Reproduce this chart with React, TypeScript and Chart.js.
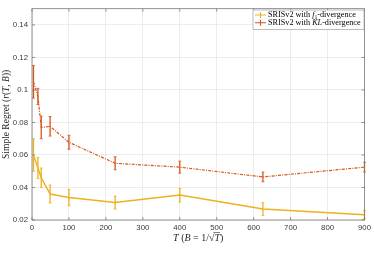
import React, { useEffect, useRef } from "react";
import { Chart, registerables } from "chart.js";

Chart.register(...registerables);

const T_VALUES = [4, 16, 25, 49, 100, 225, 400, 625, 900];
const F1_MEAN = [0.060, 0.052, 0.046, 0.036, 0.0338, 0.0307, 0.0353, 0.0267, 0.0232];
const F1_ERR = [0.010, 0.0065, 0.006, 0.0055, 0.005, 0.004, 0.0042, 0.004, 0.0025];
const KL_MEAN = [0.105, 0.096, 0.077, 0.0776, 0.0678, 0.0549, 0.0525, 0.0465, 0.0525];
const KL_ERR = [0.010, 0.005, 0.007, 0.006, 0.0043, 0.004, 0.0037, 0.003, 0.003];

const X_MIN = 0;
const X_MAX = 900;
const X_STEP = 100;
const Y_MIN = 0.02;
const Y_MAX = 0.15;
const Y_STEP = 0.02;

const YELLOW = "#EDB120";
const ORANGE = "#D95319";
const SERIF = "'Liberation Serif', 'DejaVu Serif', serif";
const SANS = "'Liberation Sans', Arial, sans-serif";

type Piece = { t: string; italic?: boolean; sub?: boolean; over?: boolean };

function drawPieces(ctx: CanvasRenderingContext2D, pieces: Piece[], x: number, y: number, size: number, align: "left" | "center") {
  const fontFor = (p: Piece) => `${p.italic ? "italic " : ""}${p.sub ? size * 0.7 : size}px ${SERIF}`;
  let total = 0;
  for (const p of pieces) {
    ctx.font = fontFor(p);
    total += ctx.measureText(p.t).width;
  }
  let cx = align === "center" ? x - total / 2 : x;
  ctx.textBaseline = "middle";
  ctx.textAlign = "left";
  for (const p of pieces) {
    ctx.font = fontFor(p);
    const w = ctx.measureText(p.t).width;
    ctx.fillText(p.t, cx, p.sub ? y + size * 0.25 : y);
    if (p.over) {
      ctx.save();
      ctx.lineWidth = 0.6;
      ctx.beginPath();
      ctx.moveTo(cx - 1, y - size * 0.55);
      ctx.lineTo(cx + w, y - size * 0.55);
      ctx.stroke();
      ctx.restore();
    }
    cx += w;
  }
  return total;
}

const errorBarPlugin = {
  id: "errorBars",
  afterDatasetsDraw(chart: any) {
    const ctx = chart.ctx as CanvasRenderingContext2D;
    const xs = chart.scales.x;
    const ys = chart.scales.y;
    const series = [
      { mean: F1_MEAN, err: F1_ERR, color: YELLOW, w: 1.3 },
      { mean: KL_MEAN, err: KL_ERR, color: ORANGE, w: 1.3 },
    ];
    ctx.save();
    for (const s of series) {
      ctx.strokeStyle = s.color;
      ctx.lineWidth = s.w;
      ctx.setLineDash([]);
      T_VALUES.forEach((t, i) => {
        const px = xs.getPixelForValue(t);
        const top = ys.getPixelForValue(s.mean[i] + s.err[i]);
        const bot = ys.getPixelForValue(s.mean[i] - s.err[i]);
        ctx.beginPath();
        ctx.moveTo(px, top);
        ctx.lineTo(px, bot);
        ctx.stroke();
        ctx.lineWidth = 0.8;
        ctx.beginPath();
        ctx.moveTo(px - 1.5, top);
        ctx.lineTo(px + 1.5, top);
        ctx.moveTo(px - 1.5, bot);
        ctx.lineTo(px + 1.5, bot);
        ctx.stroke();
        ctx.lineWidth = s.w;
      });
    }
    ctx.restore();
  },
  afterDraw(chart: any) {
    const ctx = chart.ctx as CanvasRenderingContext2D;
    const a = chart.chartArea;
    const xs = chart.scales.x;
    const ys = chart.scales.y;
    ctx.save();
    // box
    ctx.strokeStyle = "#7a7a7a";
    ctx.lineWidth = 0.8;
    ctx.strokeRect(a.left, a.top, a.right - a.left, a.bottom - a.top);
    // inward ticks
    ctx.beginPath();
    for (let v = X_MIN; v <= X_MAX + 1e-9; v += X_STEP) {
      const px = xs.getPixelForValue(v);
      ctx.moveTo(px, a.bottom);
      ctx.lineTo(px, a.bottom - 3);
      ctx.moveTo(px, a.top);
      ctx.lineTo(px, a.top + 3);
    }
    for (let v = Y_MIN; v <= Y_MAX + 1e-9; v += Y_STEP) {
      const py = ys.getPixelForValue(v);
      ctx.moveTo(a.left, py);
      ctx.lineTo(a.left + 3, py);
      ctx.moveTo(a.right, py);
      ctx.lineTo(a.right - 3, py);
    }
    ctx.stroke();

    // axis titles
    ctx.fillStyle = "#262626";
    ctx.strokeStyle = "#262626";
    drawPieces(
      ctx,
      [
        { t: "T", italic: true },
        { t: " (" },
        { t: "B", italic: true },
        { t: " = 1/\u221A" },
        { t: "T", italic: true, over: true },
        { t: ")" },
      ],
      (a.left + a.right) / 2,
      238,
      10,
      "center"
    );
    ctx.save();
    ctx.translate(6.5, (a.top + a.bottom) / 2);
    ctx.rotate(-Math.PI / 2);
    drawPieces(
      ctx,
      [
        { t: "Simple Regret (" },
        { t: "r", italic: true },
        { t: "(" },
        { t: "T", italic: true },
        { t: ", " },
        { t: "B", italic: true },
        { t: "))" },
      ],
      0,
      0,
      9.5,
      "center"
    );
    ctx.restore();

    // legend
    const lx = 253;
    const ly = 10;
    const lw = 111;
    const lh = 19.5;
    ctx.fillStyle = "#ffffff";
    ctx.fillRect(lx, ly, lw, lh);
    ctx.strokeStyle = "#a0a0a0";
    ctx.lineWidth = 0.7;
    ctx.strokeRect(lx, ly, lw, lh);
    const entries: { color: string; pieces: Piece[] }[] = [
      {
        color: YELLOW,
        pieces: [{ t: "SRISv2 with " }, { t: "f", italic: true }, { t: "1", sub: true }, { t: "-divergence" }],
      },
      {
        color: ORANGE,
        pieces: [{ t: "SRISv2 with " }, { t: "KL", italic: true }, { t: "-divergence" }],
      },
    ];
    entries.forEach((e, i) => {
      const cy = ly + 5 + i * 7.8;
      ctx.strokeStyle = e.color;
      ctx.lineWidth = 1.1;
      ctx.beginPath();
      ctx.moveTo(lx + 2, cy);
      ctx.lineTo(lx + 13, cy);
      ctx.moveTo(lx + 7.5, cy - 3);
      ctx.lineTo(lx + 7.5, cy + 3);
      ctx.stroke();
      ctx.fillStyle = "#000000";
      drawPieces(ctx, e.pieces, lx + 15, cy + 0.3, 8.2, "left");
    });
    ctx.restore();
  },
};

export default function App() {
  const ref = useRef<HTMLCanvasElement | null>(null);
  useEffect(() => {
    document.body.style.margin = "0";
    const canvas = ref.current!;
    const chart = new Chart(canvas, {
      type: "line",
      data: {
        datasets: [
          {
            label: "f1",
            data: T_VALUES.map((t, i) => ({ x: t, y: F1_MEAN[i] })),
            borderColor: YELLOW,
            borderWidth: 1.5,
            pointRadius: 0,
            tension: 0,
            fill: false,
          },
          {
            label: "KL",
            data: T_VALUES.map((t, i) => ({ x: t, y: KL_MEAN[i] })),
            borderColor: ORANGE,
            borderWidth: 1.2,
            borderDash: [3, 1.2, 1, 1.2],
            pointRadius: 0,
            tension: 0,
            fill: false,
          },
        ],
      },
      options: {
        responsive: false,
        animation: false,
        devicePixelRatio: 1,
        layout: { padding: { top: 7.5, right: 8, left: 0, bottom: 0 } },
        plugins: { legend: { display: false }, tooltip: { enabled: false } },
        scales: {
          x: {
            type: "linear",
            min: X_MIN,
            max: X_MAX,
            afterFit: (s: any) => {
              s.height = 35;
            },
            ticks: {
              stepSize: X_STEP,
              font: { family: SANS, size: 7.8 },
              color: "#3a3a3a",
              padding: 3,
              maxRotation: 0,
            },
            grid: { color: "#e8e8e8", lineWidth: 0.8, drawTicks: false },
            border: { display: false },
          },
          y: {
            type: "linear",
            min: Y_MIN,
            max: Y_MAX,
            afterFit: (s: any) => {
              s.width = 32;
            },
            ticks: {
              stepSize: Y_STEP,
              includeBounds: false,
              font: { family: SANS, size: 7.8 },
              color: "#3a3a3a",
              padding: 4,
              callback: (v: any) => String(parseFloat(Number(v).toFixed(2))),
            },
            grid: { color: "#e8e8e8", lineWidth: 0.8, drawTicks: false },
            border: { display: false },
          },
        },
      },
      plugins: [errorBarPlugin],
    } as any);
    return () => chart.destroy();
  }, []);
  return (
    <div style={{ position: "absolute", left: 0, top: 0, width: 374, height: 255, background: "#fff" }}>
      <canvas ref={ref} width={374} height={255} />
    </div>
  );
}
